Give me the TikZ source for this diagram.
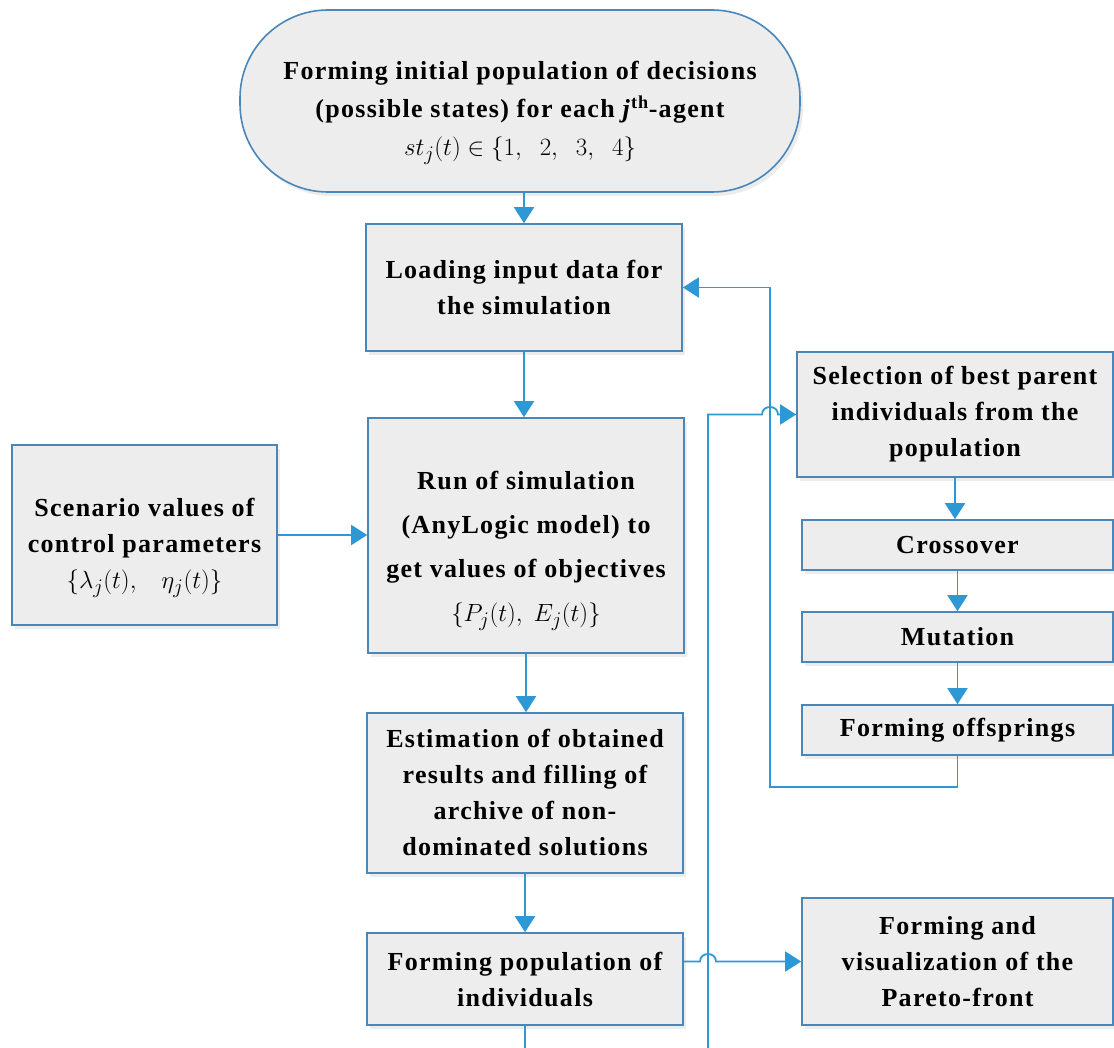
\documentclass[tikz,border=0pt]{standalone}
\usepackage{fontspec}
\setmainfont{Liberation Serif}[LetterSpace=5]
\definecolor{boxline}{RGB}{74,134,184}
\definecolor{boxfill}{RGB}{237,237,237}
\definecolor{flow}{RGB}{46,152,212}
\usetikzlibrary{positioning, arrows.meta, shadows, calc}
\newcommand{\mathline}[1]{{\mdseries\fontsize{28}{36}\selectfont $#1$}}

\begin{document}
\begin{tikzpicture}[x=1pt, y=-1pt,
                    every node/.style = {text=black, align=center, inner sep=0pt,
                                         font=\bfseries\fontsize{26}{36}\selectfont},
                    block/.style = {draw=boxline, line width=1.6pt, fill=boxfill,
                                    drop shadow={shadow xshift=3pt, shadow yshift=-4pt, opacity=0.15}},
                    arr/.style = {draw=flow, line width=1.8pt, -{Triangle[width=20pt, length=16pt]}},
                    hop/.style = {to path={-- ($(\tikztotarget)+(-8,0)$) .. controls +(0,-10) and +(0,-10) .. ++(16,0)}}]
            \useasboundingbox (0,0) rectangle (1114,1048);

            % main column
            \node (init) [block, rounded corners=88pt, minimum width=560pt, minimum height=182pt,
                          font=\bfseries\fontsize{26}{38}\selectfont] at (520,101)
                  {\mbox{}\\[4pt]Forming initial population of decisions\\
                   (possible states) for each \textit{j}\textsuperscript{th}-agent\\
                   \mathline{st_j(t)\in\{1,\;\;2,\;\;3,\;\;4\}}};
            \node (load) [block, minimum width=316pt, minimum height=127pt] at (524,287.5)
                  {Loading input data for\\ the simulation};
            \node (run) [block, minimum width=316pt, minimum height=235pt,
                         font=\bfseries\fontsize{26}{44}\selectfont] at (526,535.5)
                  {\mbox{}\\[6pt]Run of simulation\\ (AnyLogic model) to\\ get values of objectives\\
                   \mathline{\{P_j(t),\;E_j(t)\}}};
            \node (scen) [block, minimum width=265pt, minimum height=180pt] at (144.5,535)
                  {\mbox{}\\[8pt]Scenario values of\\ control parameters\\
                   \mathline{\{\lambda_j(t),\;\;\;\eta_j(t)\}}};
            \node (est) [block, minimum width=316pt, minimum height=160pt] at (525,793)
                  {Estimation of obtained\\ results and filling of\\ archive of non-\\ dominated solutions};
            \node (pop) [block, minimum width=316pt, minimum height=92pt] at (525,979)
                  {Forming population of\\ individuals};

            % right column
            \node (sel) [block, minimum width=316pt, minimum height=125pt] at (955,414.5)
                  {Selection of best parent\\ individuals from the\\ population};
            \node (cross) [block, minimum width=311pt, minimum height=50pt] at (957.5,545) {Crossover};
            \node (mut) [block, minimum width=311pt, minimum height=50pt] at (957.5,637) {Mutation};
            \node (offs) [block, minimum width=311pt, minimum height=50pt] at (957.5,730) {Forming offsprings};
            \node (pareto) [block, minimum width=311pt, minimum height=127pt] at (957.5,961.5)
                  {Forming and\\ visualization of the\\ Pareto-front};

            \coordinate (bus) at (708,1075);
            \coordinate (fb) at (770,787);

            \draw [arr] (init.south -| load.north) -- (load.north);
            \draw [arr] (load.south) -- (load.south |- run.north);
            \draw [arr] (scen.east) -- (scen.east -| run.west);
            \draw [arr] (run.south) -- (run.south |- est.north);
            \draw [arr] (est.south) -- (est.south |- pop.north);

            \draw [arr] (sel.south) -- (sel.south |- cross.north);
            \draw [arr] (cross.south) -- (mut.north);
            \draw [arr] (mut.south) -- (offs.north);

            % loops back
            \draw [arr] (offs.south) |- (fb) |- (load.east);
            \draw [arr] (pop.south) |- (bus) -- (bus |- sel.west) to[hop] (fb |- sel.west) -- (sel.west);
            \draw [arr] (pop.east |- pareto.west) to[hop] (bus |- pareto.west) -- (pareto.west);
\end{tikzpicture}
\end{document}
